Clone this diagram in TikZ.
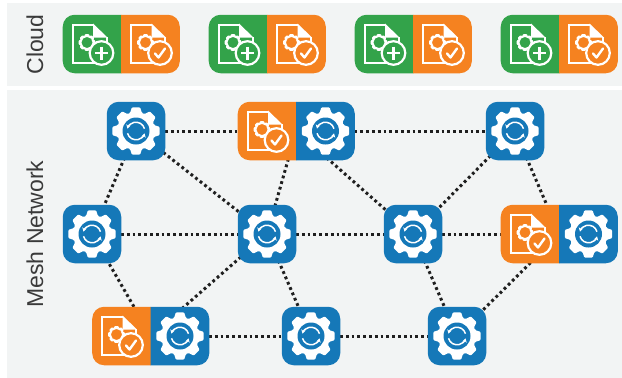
\documentclass[tikz,border=0pt]{standalone}
\usepackage{fontspec}
\setmainfont{Liberation Sans}
\usetikzlibrary{arrows.meta,backgrounds}
\definecolor{tgreen}{HTML}{33A34A}
\definecolor{torange}{HTML}{F58220}
\definecolor{tblue}{HTML}{1578B8}
\definecolor{panelc}{HTML}{F2F4F4}
\definecolor{labelc}{HTML}{3A3A3A}
\newcommand{\gearpath}{(-18:19) \foreach \a in {0,45,...,315}{ -- ({\a-18}:19) -- ({\a-10}:24) -- ({\a+10}:24) -- ({\a+18}:19)} -- cycle}
\newcommand{\docpage}[1]{%
  \draw[white,line width=2pt,line join=miter] (14.5,12) -- (14.5,19) -- (-19.5,19) -- (-19.5,-19.5) -- (1,-19.5);
  \fill[white] (1,-20.5) -- (15.5,-6.5) -- (1,-6.5) -- cycle;
  \draw[white,line width=2pt] (14.5,-7) -- (14.5,2);
  \begin{scope}[shift={(-5,-1.5)},scale=0.32]
    \draw[white,line width=1.8pt,rounded corners=0.5pt] \gearpath;
  \end{scope}
  \draw[white,line width=2.2pt,fill=#1] (9.5,9) circle (11.8);
}
\tikzset{
  panelbox/.style={fill=panelc,inner sep=0pt,outer sep=0pt},
  bluetile/.style={fill=tblue,rounded corners=12pt,minimum width=58.5pt,minimum height=58.5pt,inner sep=0pt,outer sep=0pt},
  halfnode/.style={minimum width=58.6pt,minimum height=58.5pt,inner sep=0pt,outer sep=0pt},
  lefthalf/.style={halfnode,path picture={\fill[#1,rounded corners=12pt] (path picture bounding box.south west) rectangle ([xshift=20pt]path picture bounding box.north east);}},
  righthalf/.style={halfnode,path picture={\fill[#1,rounded corners=12pt] ([xshift=-20pt]path picture bounding box.south west) rectangle (path picture bounding box.north east);}},
  mesh/.style={line width=3pt,color=black!88,dash pattern=on 2.8pt off 3pt},
  lab/.style={text=labelc,font=\fontsize{23}{23}\selectfont,rotate=90,inner sep=0pt},
  pics/gearicon/.style={code={
    \fill[white,rounded corners=1pt] \gearpath;
    \fill[tblue] (0,0) circle (13.5);
    \draw[white,line width=1.5pt,-{Stealth[length=4pt,width=4.5pt]}] (165:8.8) arc[start angle=165,end angle=15,radius=8.8];
    \draw[white,line width=1.5pt,-{Stealth[length=4pt,width=4.5pt]}] (-15:8.8) arc[start angle=-15,end angle=-165,radius=8.8];
  }},
  pics/addicon/.style={code={
    \docpage{tgreen}
    \draw[white,line width=2.2pt] (3,9) -- (16,9) (9.5,2.5) -- (9.5,15.5);
  }},
  pics/okicon/.style={code={
    \docpage{torange}
    \draw[white,line width=2.4pt,line cap=round,line join=round] (4.5,9.5) -- (8,13.5) -- (14.5,4.5);
  }},
}
\begin{document}
\begin{tikzpicture}[x=1pt,y=-1pt]
\useasboundingbox (0,0) rectangle (622,378);
\begin{pgfonlayer}{background}
  \node[panelbox,minimum width=615pt,minimum height=83pt] (cloudpanel) at (314.5,44.5) {};
  \node[panelbox,minimum width=615pt,minimum height=288pt] (meshpanel) at (314.5,234) {};
\end{pgfonlayer}
\node[lab] (cloudlab) at (35,44.5) {Cloud};
\node[lab] (meshlab) at (35,234) {Mesh Network};
% cloud
\foreach \n/\x in {1/92,2/238,3/384,4/530}{
  \node[lefthalf=tgreen] (add\n) at (\x,44) {};
  \node[righthalf=torange] (ok\n) at (\x+58.5,44) {};
  \pic at (add\n) {addicon};
  \pic at (ok\n) {okicon};
}
% mesh
\node[bluetile] (a) at (136,131) {}; \pic at (a) {gearicon};
\node[lefthalf=torange] (bdoc) at (267,131) {}; \pic at (bdoc) {okicon};
\node[righthalf=tblue] (b) at (325.5,131) {}; \pic at (b) {gearicon};
\node[bluetile] (c) at (515,131) {}; \pic at (c) {gearicon};
\node[bluetile] (d) at (92,234) {}; \pic at (d) {gearicon};
\node[bluetile] (e) at (267,234) {}; \pic at (e) {gearicon};
\node[bluetile] (f) at (413,234) {}; \pic at (f) {gearicon};
\node[lefthalf=torange] (gdoc) at (530,234) {}; \pic at (gdoc) {okicon};
\node[righthalf=tblue] (g) at (588.5,234) {}; \pic at (g) {gearicon};
\node[lefthalf=torange] (hdoc) at (121.5,336) {}; \pic at (hdoc) {okicon};
\node[righthalf=tblue] (h) at (180,336) {}; \pic at (h) {gearicon};
\node[bluetile] (i) at (311,336) {}; \pic at (i) {gearicon};
\node[bluetile] (j) at (457,336) {}; \pic at (j) {gearicon};
\begin{pgfonlayer}{background}
  \draw[mesh] (a.center) -- (bdoc.center);
  \draw[mesh] (b.center) -- (c.center);
  \draw[mesh] (a.center) -- (d.center);
  \draw[mesh] (a.center) -- (e.center);
  \draw[mesh] (bdoc.east) -- (e.center);
  \draw[mesh] (bdoc.east) -- (f.center);
  \draw[mesh] (c.center) -- (f.center);
  \draw[mesh] (c.center) -- (gdoc.east);
  \draw[mesh] (d.center) -- (e.center);
  \draw[mesh] (e.center) -- (f.center);
  \draw[mesh] (f.center) -- (gdoc.center);
  \draw[mesh] (d.center) -- (hdoc.east);
  \draw[mesh] (e.center) -- (hdoc.east);
  \draw[mesh] (e.center) -- (i.center);
  \draw[mesh] (f.center) -- (j.center);
  \draw[mesh] (gdoc.east) -- (j.center);
  \draw[mesh] (h.center) -- (i.center);
  \draw[mesh] (i.center) -- (j.center);
\end{pgfonlayer}
\end{tikzpicture}
\end{document}
